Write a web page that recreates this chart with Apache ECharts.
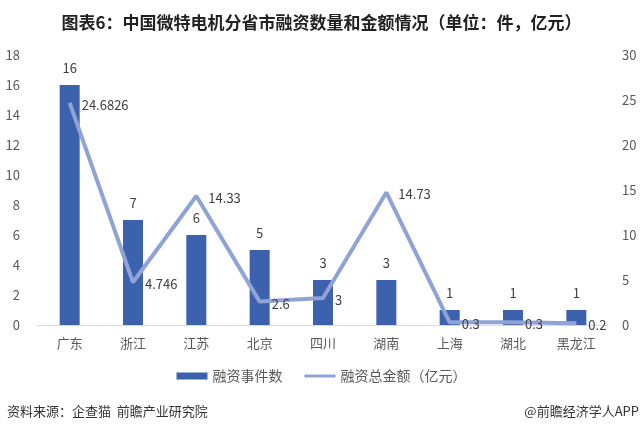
<!DOCTYPE html>
<html>
<head>
<meta charset="utf-8">
<script src="https://cdn.jsdelivr.net/npm/echarts@6/dist/echarts.min.js"></script>
<style>
html, body { margin: 0; padding: 0; background: #fff; }
#main { width: 643px; height: 437px; }
</style>
</head>
<body>
<div id="main"></div>
<script>
var provinces = ['广东', '浙江', '江苏', '北京', '四川', '湖南', '上海', '湖北', '黑龙江'];
var eventCounts = [16, 7, 6, 5, 3, 3, 1, 1, 1];
var amounts = [24.6826, 4.746, 14.33, 2.6, 3, 14.73, 0.3, 0.3, 0.2];

var font = '"Microsoft YaHei", "Noto Sans CJK SC", sans-serif';
var myChart = echarts.init(document.getElementById('main'));
var option = {
	textStyle : { fontFamily : font },
	title : {
		text : '图表6：中国微特电机分省市融资数量和金额情况（单位：件，亿元）',
		left : 'center',
		top : 9,
		textStyle : { fontSize : 17, fontWeight : 'bold', color : '#222', fontFamily : font }
	},
	legend : {
		bottom : 49,
		left : 'center',
		itemWidth : 31,
		itemHeight : 7,
		itemGap : 22,
		textStyle : { color : '#595959', fontSize : 14 },
		data : [
			{ name : '融资事件数', icon : 'rect' },
			{ name : '融资总金额（亿元）', icon : 'path://M0,0 L31,0 L31,3 L0,3 Z' }
		]
	},
	grid : { left : 38, right : 35, top : 55, bottom : 112 },
	xAxis : {
		type : 'category',
		data : provinces,
		axisLine : { lineStyle : { color : '#d9d9d9' } },
		axisTick : { show : false },
		axisLabel : { color : '#595959', fontSize : 13, margin : 12 }
	},
	yAxis : [
		{
			type : 'value',
			min : 0, max : 18, interval : 2,
			splitLine : { show : false },
			axisLabel : { color : '#595959', fontSize : 13, margin : 18 }
		},
		{
			type : 'value',
			min : 0, max : 30, interval : 5,
			splitLine : { show : false },
			axisLabel : { color : '#595959', fontSize : 13, margin : 14 }
		}
	],
	series : [
		{
			name : '融资事件数',
			type : 'bar',
			barWidth : 20,
			data : eventCounts,
			itemStyle : { color : '#3d62ad' },
			label : { show : true, position : 'top', distance : 10, color : '#404040', fontSize : 13 }
		},
		{
			name : '融资总金额（亿元）',
			type : 'line',
			yAxisIndex : 1,
			data : amounts,
			symbol : 'circle',
			symbolSize : 0,
			lineStyle : { color : '#8fa3d6', width : 4 },
			itemStyle : { color : '#8fa3d6' },
			label : { show : true, position : 'right', distance : 12, offset : [0, 2], color : '#404040', fontSize : 13 }
		}
	],
	graphic : [
		{ type : 'text', left : 7, top : 405, style : { text : '资料来源：企查猫  前瞻产业研究院', fill : '#333', fontSize : 13, fontFamily : font } },
		{ type : 'text', right : 4, top : 405, style : { text : '@前瞻经济学人APP', fill : '#333', fontSize : 13, fontFamily : font } }
	]
};
myChart.setOption(option, true);
</script>
</body>
</html>
